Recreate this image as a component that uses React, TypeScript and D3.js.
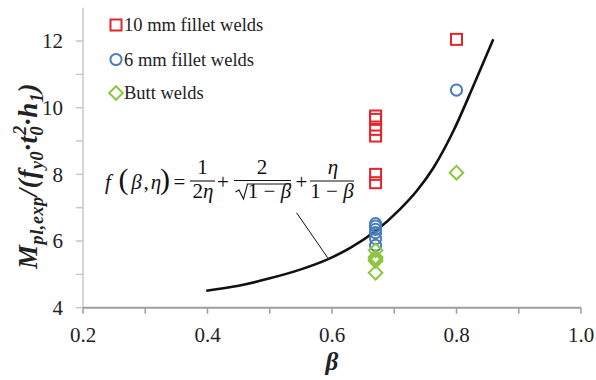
import React from "react";
import * as d3 from "d3";

// ---- data ----
const beta10mm = [0.67, 0.67, 0.67, 0.67, 0.67, 0.67, 0.8];
const val10mm = [9.75, 9.65, 9.35, 9.15, 8.0, 7.75, 12.05];
const beta6mm = [0.67, 0.67, 0.67, 0.67, 0.67, 0.67, 0.8];
const val6mm = [6.52, 6.45, 6.35, 6.25, 6.07, 5.87, 10.53];
const betaButt = [0.67, 0.67, 0.67, 0.67, 0.67, 0.8];
const valButt = [5.72, 5.52, 5.46, 5.4, 5.05, 8.05];
const curveBeta = [0.398, 0.45, 0.5, 0.55, 0.593, 0.63, 0.67, 0.709, 0.736, 0.763, 0.795, 0.827, 0.859];
const curveVal = [4.51, 4.66, 4.88, 5.15, 5.45, 5.8, 6.3, 6.95, 7.5, 8.2, 9.3, 10.65, 12.05];
const xTickLabels = [0.2, 0.4, 0.6, 0.8, 1.0];
const xMinorTicks = [0.3, 0.5, 0.7, 0.9];
const yTickLabels = [4, 6, 8, 10, 12];
const yMinorTicks = [5, 7, 9, 11];
const seriesNames = ["10 mm fillet welds", "6 mm fillet welds", "Butt welds"];

const RED = "#e3242b";
const BLUE = "#4a7ebb";
const GREEN = "#8dc63f";
const SERIF = "'Liberation Serif', 'Times New Roman', serif";

export default function App() {
  const W = 596, H = 380;
  const x = d3.scaleLinear().domain([0.2, 1.0]).range([83, 581]);
  const y = d3.scaleLinear().domain([4, 13]).range([307.7, 7.7]);

  const line = d3
    .line<number>()
    .x((_, i) => x(curveBeta[i]))
    .y((d) => y(d))
    .curve(d3.curveMonotoneX);

  const sq = (cx: number, cy: number, key: string) => (
    <rect key={key} x={cx - 5.5} y={cy - 5.5} width={11} height={11} fill="none" stroke={RED} strokeWidth={2} />
  );
  const circ = (cx: number, cy: number, key: string) => (
    <circle key={key} cx={cx} cy={cy} r={5.6} fill="none" stroke={BLUE} strokeWidth={2} />
  );
  const dia = (cx: number, cy: number, key: string) => (
    <path key={key} d={`M${cx},${cy - 6.8}L${cx + 6.8},${cy}L${cx},${cy + 6.8}L${cx - 6.8},${cy}Z`} fill="none" stroke={GREEN} strokeWidth={2} />
  );

  const legendY = [25, 59.5, 93];
  const markers = [sq, circ, dia];
  const T = { fontFamily: SERIF } as React.CSSProperties;

  const fs = 21;
  return (
    <svg width={W} height={H} style={{ position: "absolute", left: 0, top: 0, background: "#fff", fontFamily: SERIF }}>
      <rect width={W} height={H} fill="#fff" />
      {/* y axis */}
      <line x1={x(0.2)} x2={x(0.2)} y1={y(13)} y2={y(4)} stroke="#c8c8c8" strokeWidth={1.5} />
      {[...yTickLabels, ...yMinorTicks].map((t) => (
        <line key={"yt" + t} x1={x(0.2) - 7} x2={x(0.2)} y1={y(t)} y2={y(t)} stroke="#c8c8c8" strokeWidth={1.5} />
      ))}
      {yTickLabels.map((t) => (
        <text key={"yl" + t} style={T} x={63} y={y(t)} dy="0.35em" textAnchor="end" fontSize={21} fill="#222">
          {t}
        </text>
      ))}
      {/* x axis */}
      <line x1={x(0.2)} x2={x(1.0)} y1={y(4)} y2={y(4)} stroke="#9e9e9e" strokeWidth={2} />
      {[...xTickLabels, ...xMinorTicks].map((t) => (
        <line key={"xt" + t} x1={x(t)} x2={x(t)} y1={y(4)} y2={y(4) + 6} stroke="#9e9e9e" strokeWidth={1.5} />
      ))}
      {xTickLabels.map((t) => (
        <text key={"xl" + t} style={T} x={x(t)} y={342} textAnchor="middle" fontSize={21} fill="#222">
          {t.toFixed(1)}
        </text>
      ))}
      {/* axis titles */}
      <text style={T} x={x(0.6)} y={370} textAnchor="middle" fontSize={25} fontWeight="bold" fontStyle="italic" fill="#222">
        β
      </text>
      <text style={{ ...T, letterSpacing: "0.6px" }} transform="translate(37,176) rotate(-90)" textAnchor="middle" fontSize={27} fontWeight="bold" fontStyle="italic" fill="#222">
        <tspan>M</tspan>
        <tspan fontSize={18} dy={6}>pl,exp</tspan>
        <tspan dy={-6}>/(f</tspan>
        <tspan fontSize={18} dy={6}>y0</tspan>
        <tspan dy={-6}>·t</tspan>
        <tspan fontSize={18} dy={6}>0</tspan>
        <tspan fontSize={18} dy={-17} dx={-9}>2</tspan>
        <tspan dy={11}>·h</tspan>
        <tspan fontSize={18} dy={6}>1</tspan>
        <tspan dy={-6}>)</tspan>
      </text>
      {/* curve */}
      <path d={line(curveVal) || ""} fill="none" stroke="#111" strokeWidth={2.6} />
      {/* pointer */}
      <line x1={x(0.543)} y1={y(6.85)} x2={x(0.593)} y2={y(5.5)} stroke="#111" strokeWidth={1} />
      {/* points */}
      {val10mm.map((v, i) => sq(x(beta10mm[i]), y(v), "r" + i))}
      {val6mm.map((v, i) => circ(x(beta6mm[i]), y(v), "b" + i))}
      {valButt.map((v, i) => dia(x(betaButt[i]), y(v), "g" + i))}
      {/* legend */}
      {seriesNames.map((n, i) => (
        <g key={n}>
          {markers[i](116, legendY[i], "lm" + i)}
          <text style={T} x={124} y={legendY[i]} dy="0.34em" fontSize={18.5} fill="#222">
            {n}
          </text>
        </g>
      ))}
      {/* formula */}
      <g fill="#111" fontSize={fs} style={T}>
        <text x={108} y={189} textAnchor="middle" fontStyle="italic">f</text>
        <text x={123.5} y={189} textAnchor="middle" fontSize={30}>(</text>
        <text x={136.5} y={189} textAnchor="middle" fontStyle="italic">β</text>
        <text x={146} y={189} textAnchor="middle">,</text>
        <text x={156} y={189} textAnchor="middle" fontStyle="italic">η</text>
        <text x={165} y={189} textAnchor="middle" fontSize={30}>)</text>
        <text x={179.5} y={189} textAnchor="middle">=</text>
        {/* frac 1 */}
        <text x={202.5} y={174} textAnchor="middle">1</text>
        <line x1={190} x2={215} y1={181} y2={181} stroke="#111" strokeWidth={1.1} />
        <text x={203} y={198} textAnchor="middle">2<tspan fontStyle="italic">η</tspan></text>
        <text x={223} y={189} textAnchor="middle">+</text>
        {/* frac 2 */}
        <text x={262} y={174} textAnchor="middle">2</text>
        <line x1={234} x2={291} y1={180.5} y2={180.5} stroke="#111" strokeWidth={1.1} />
        <path d="M235.5,192L239,190L243.5,199L247.5,184L291,184" fill="none" stroke="#111" strokeWidth={1.1} />
        <text x={269.5} y={198} textAnchor="middle">1 − <tspan fontStyle="italic">β</tspan></text>
        <text x={301.5} y={189} textAnchor="middle">+</text>
        {/* frac 3 */}
        <text x={333} y={174} textAnchor="middle" fontStyle="italic">η</text>
        <line x1={310} x2={354} y1={181} y2={181} stroke="#111" strokeWidth={1.1} />
        <text x={332} y={198} textAnchor="middle">1 − <tspan fontStyle="italic">β</tspan></text>
      </g>
    </svg>
  );
}
